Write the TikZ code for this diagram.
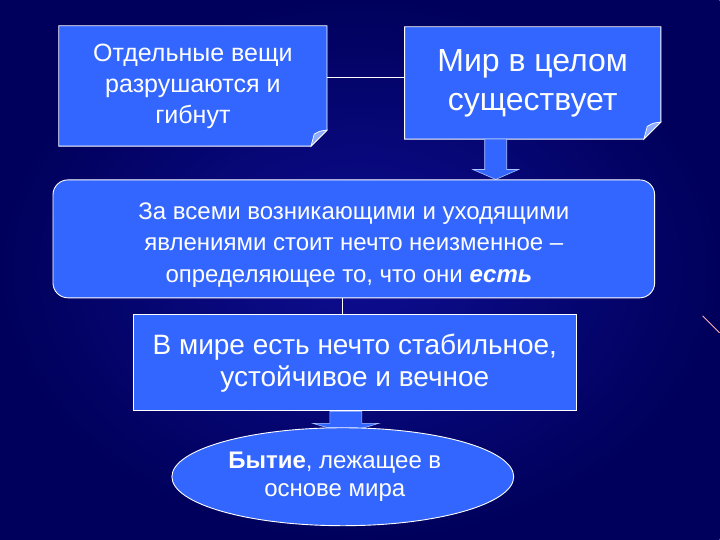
\documentclass[tikz,border=0pt]{standalone}
\usepackage{fontspec}
\setmainfont{Liberation Sans}
\usetikzlibrary{shapes,calc,positioning}
\pgfdeclarelayer{bg}
\pgfsetlayers{bg,main}
\definecolor{slideblue}{RGB}{51,102,255}
\definecolor{navydark}{RGB}{0,0,92}
\definecolor{navylight}{RGB}{14,14,146}
\tikzstyle{card} = [fill=slideblue, draw=white, line width=0.9pt]
\tikzstyle{flap} = [fill=slideblue!55!white, draw=white, line width=0.7pt]
\tikzstyle{txt} = [text=white, align=center, inner sep=0pt]
\tikzstyle{link} = [draw=white, line width=0.8pt]
\tikzstyle{fat} = [fill=slideblue, draw=white!60!slideblue, line width=0.6pt]
% card with a folded bottom right corner, drawn behind the node text
\newcommand{\foldcard}[2]{%
  \begin{pgfonlayer}{bg}
    \draw[card] (#1.north west) -- (#1.north east) -- ([yshift=#2]#1.south east)
      -- ([xshift=-#2]#1.south east) -- (#1.south west) -- cycle;
    \draw[flap] ([yshift=#2]#1.south east)
      .. controls ([xshift=-0.45*#2,yshift=0.95*#2]#1.south east) .. ([xshift=-0.8*#2,yshift=0.75*#2]#1.south east)
      .. controls ([xshift=-0.95*#2,yshift=0.4*#2]#1.south east) .. ([xshift=-#2]#1.south east) -- cycle;
  \end{pgfonlayer}}
% wide arrow from #1 to the tip #2
\newcommand{\blockarrow}[4]{%
  \begin{pgfonlayer}{bg}
    \draw[fat] ($(#1)+(-#3,0)$) -- ($(#2)+(-#3,-10)$) -- ($(#2)+(-#4,-10)$) -- (#2)
      -- ($(#2)+(#4,-10)$) -- ($(#2)+(#3,-10)$) -- ($(#1)+(#3,0)$) -- cycle;
  \end{pgfonlayer}}
\begin{document}
\begin{tikzpicture}[x=1pt, y=-1pt]
  \begin{pgfonlayer}{bg}
    \shade[inner color=navylight, outer color=navydark] (0,0) rectangle (720,540);
    \draw[red!30!white, line width=0.8pt] (703,316) -- (720,333);
  \end{pgfonlayer}
  \useasboundingbox (0,0) rectangle (720,540);

  \node[txt, minimum width=268pt, minimum height=120pt,
        font=\fontsize{25}{31}\selectfont] (things) at (193,86)
        {Отдельные вещи\\разрушаются и\\гибнут};
  \node[txt, minimum width=256pt, minimum height=112pt,
        font=\fontsize{32}{39}\selectfont] (world) at (533,83)
        {Мир в целом\\существует};
  \node[txt, card, rounded corners=15pt, minimum width=602pt, minimum height=118pt,
        font=\fontsize{24}{31.5}\selectfont] (beyond) at (354,239)
        {\raisebox{-6pt}[\height][\depth]{\parbox{500pt}{\centering За всеми возникающими и уходящими\hspace*{10pt}\\явлениями стоит нечто неизменное –\hspace*{10pt}\\определяющее то, что они \textbf{\textit{есть}}\hspace*{10pt}}}};
  \node[txt, card, minimum width=443pt, minimum height=96pt,
        font=\fontsize{28}{32}\selectfont] (stable) at (355,363)
        {В мире есть нечто стабильное,\\устойчивое и вечное};
  \node[txt, card, ellipse, minimum width=342pt, minimum height=98pt,
        font=\fontsize{24}{29}\selectfont] (being) at (343,477)
        {\textbf{Бытие}, лежащее в\hspace*{16pt}\\основе мира\hspace*{16pt}};

  \foldcard{things}{16pt}
  \foldcard{world}{17pt}

  \coordinate (joint) at ([yshift=9pt]things.east);
  \draw[link] (joint) -- (joint -| world.west);
  \coordinate (drop) at ([xshift=-11pt]beyond.south);
  \draw[link] (drop) -- (drop |- stable.north);

  \coordinate (outA) at ([xshift=-37pt]world.south);
  \coordinate (tipA) at (outA |- beyond.north);
  \blockarrow{outA}{tipA}{11}{23}
  \coordinate (outB) at ([xshift=-9pt]stable.south);
  \coordinate (tipB) at ($(outB |- being.north)+(0,6)$);
  \blockarrow{outB}{tipB}{16}{33}
\end{tikzpicture}
\end{document}
